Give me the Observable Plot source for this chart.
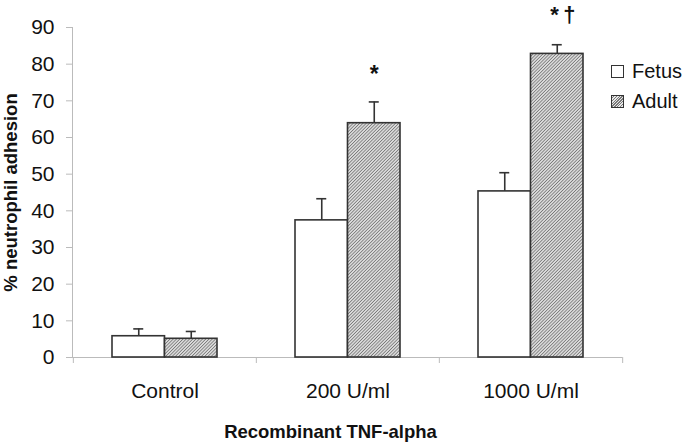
<!DOCTYPE html>
<html>
<head>
<meta charset="utf-8">
<script src="https://cdn.jsdelivr.net/npm/d3@7"></script>
<script src="https://cdn.jsdelivr.net/npm/@observablehq/plot@0.6"></script>
<style>
  html, body { margin: 0; padding: 0; background: #fff; }
  #wrap { position: relative; width: 685px; height: 443px; font-family: "Liberation Sans", Arial, sans-serif; }
  .legend { position: absolute; left: 611px; top: 56px; font-size: 20px; color: #111; }
  .legend .row { display: flex; align-items: center; height: 30px; }
  .legend .sw { width: 11px; height: 11px; border: 1px solid #333; margin-right: 8px; background: #fff; }
  .legend .sw.hatch { background: repeating-linear-gradient(135deg, #e8e8e8 0 1px, #7a7a7a 1px 2px); }
</style>
</head>
<body>
<div id="wrap"></div>
<script>
// ---- data ----
const categories = ["Control", "200 U/ml", "1000 U/ml"];
const seriesNames = ["Fetus", "Adult"];
const fetusMean = [5.8, 37.4, 45.3];
const fetusErr = [2.0, 5.9, 5.1];
const adultMean = [5.1, 63.9, 82.8];
const adultErr = [2.0, 5.8, 2.5];
const yTicks = [0, 10, 20, 30, 40, 50, 60, 70, 80, 90];
const annotCategory = ["200 U/ml", "1000 U/ml"];
const annotText = ["*", "*\u2009\u2020"];
const annotY = [75.2, 91.4];
const xLabel = "Recombinant TNF-alpha";
const yLabel = "% neutrophil adhesion";

const fetus = categories.map((c, i) => ({cat: c, mean: fetusMean[i], err: fetusErr[i], top: fetusMean[i] + fetusErr[i]}));
const adult = categories.map((c, i) => ({cat: c, mean: adultMean[i], err: adultErr[i], top: adultMean[i] + adultErr[i]}));
const annots = annotCategory.map((c, i) => ({cat: c, text: annotText[i], y: annotY[i]}));

const W = 685, H = 443;
const mL = 72, mR = 63, mT = 27, mB = 86;
const step = (W - mL - mR) / categories.length;
const padIn = 0.4273;
const bw = step * (1 - padIn);
const half = bw / 2;
const off = bw / 4;   // offset from band center to each bar center
const capHalf = 5;
const ink = "#333";

const plot = Plot.plot({
  width: W,
  height: H,
  marginLeft: mL,
  marginRight: mR,
  marginTop: mT,
  marginBottom: mB,
  style: {fontFamily: "'Liberation Sans', Arial, sans-serif", background: "#fff"},
  x: {domain: categories, paddingInner: padIn, paddingOuter: padIn / 2, label: null},
  y: {domain: [0, 90], label: null},
  marks: [
    Plot.axisY({ticks: yTicks, tickSize: 6, tickPadding: 12, stroke: "#bbb", fill: "#111", fontSize: 21, label: null}),
    Plot.axisX({tickSize: 0, tickPadding: 26, fill: "#111", fontSize: 21, label: null}),
    Plot.frame({anchor: "left", stroke: "#bbb"}),
    Plot.ruleY([0], {stroke: "#bbb"}),
    // category boundary ticks
    Plot.ruleX(categories, {x: d => d, y1: 0, y2: 0, dx: -step / 2, insetBottom: -6, stroke: "#bbb"}),
    Plot.ruleX(categories.slice(-1), {x: d => d, y1: 0, y2: 0, dx: step / 2, insetBottom: -6, stroke: "#bbb"}),
    // error bars (upper only)
    Plot.ruleX(fetus, {x: "cat", y1: "mean", y2: "top", dx: -off, stroke: ink, strokeWidth: 1.6}),
    Plot.tickY(fetus, {x: "cat", y: "top", dx: -off, insetLeft: half - capHalf, insetRight: half - capHalf, stroke: ink, strokeWidth: 1.6}),
    Plot.ruleX(adult, {x: "cat", y1: "mean", y2: "top", dx: off, stroke: ink, strokeWidth: 1.6}),
    Plot.tickY(adult, {x: "cat", y: "top", dx: off, insetLeft: half - capHalf, insetRight: half - capHalf, stroke: ink, strokeWidth: 1.6}),
    // bars
    Plot.barY(fetus, {x: "cat", y: "mean", insetRight: half, fill: "#fff", stroke: ink, strokeWidth: 1.6}),
    Plot.barY(adult, {x: "cat", y: "mean", insetLeft: half, fill: "url(#hatch)", stroke: ink, strokeWidth: 1.6}),
    // significance markers
    Plot.text(annots, {x: "cat", y: "y", text: "text", dx: off - 7, textAnchor: "start", lineAnchor: "bottom", fontSize: 22, fontWeight: "bold", fill: "#111", filter: d => d.text !== "*"}),
    Plot.text(annots, {x: "cat", y: "y", text: "text", dx: off, textAnchor: "middle", lineAnchor: "bottom", fontSize: 23, fontWeight: "bold", fill: "#111", filter: d => d.text === "*"}),
    // axis titles
    Plot.text([yLabel], {frameAnchor: "left", textAnchor: "middle", lineAnchor: "middle", rotate: -90, dx: -61, fontSize: 18.5, fontWeight: "bold", fill: "#111"}),
    Plot.text([xLabel], {frameAnchor: "bottom", textAnchor: "middle", lineAnchor: "middle", dx: -17, dy: 75, fontSize: 18.5, fontWeight: "bold", fill: "#111"})
  ]
});

// hatch pattern definition
const svg = d3.select(plot);
const defs = svg.insert("defs", ":first-child");
const P = 2.3;
const pat = defs.append("pattern")
  .attr("id", "hatch")
  .attr("patternUnits", "userSpaceOnUse")
  .attr("width", P)
  .attr("height", P)
  .attr("patternTransform", "rotate(45)");
pat.append("rect").attr("width", P).attr("height", P).attr("fill", "#ececec");
pat.append("line").attr("x1", P / 2).attr("y1", 0).attr("x2", P / 2).attr("y2", P).attr("stroke", "#777").attr("stroke-width", 1.0);

const wrap = document.getElementById("wrap");
wrap.appendChild(plot);

const legend = document.createElement("div");
legend.className = "legend";
seriesNames.forEach((s, i) => {
  const row = document.createElement("div");
  row.className = "row";
  const sw = document.createElement("div");
  sw.className = "sw" + (i === 1 ? " hatch" : "");
  const lab = document.createElement("span");
  lab.textContent = s;
  row.appendChild(sw);
  row.appendChild(lab);
  legend.appendChild(row);
});
wrap.appendChild(legend);
</script>
</body>
</html>
